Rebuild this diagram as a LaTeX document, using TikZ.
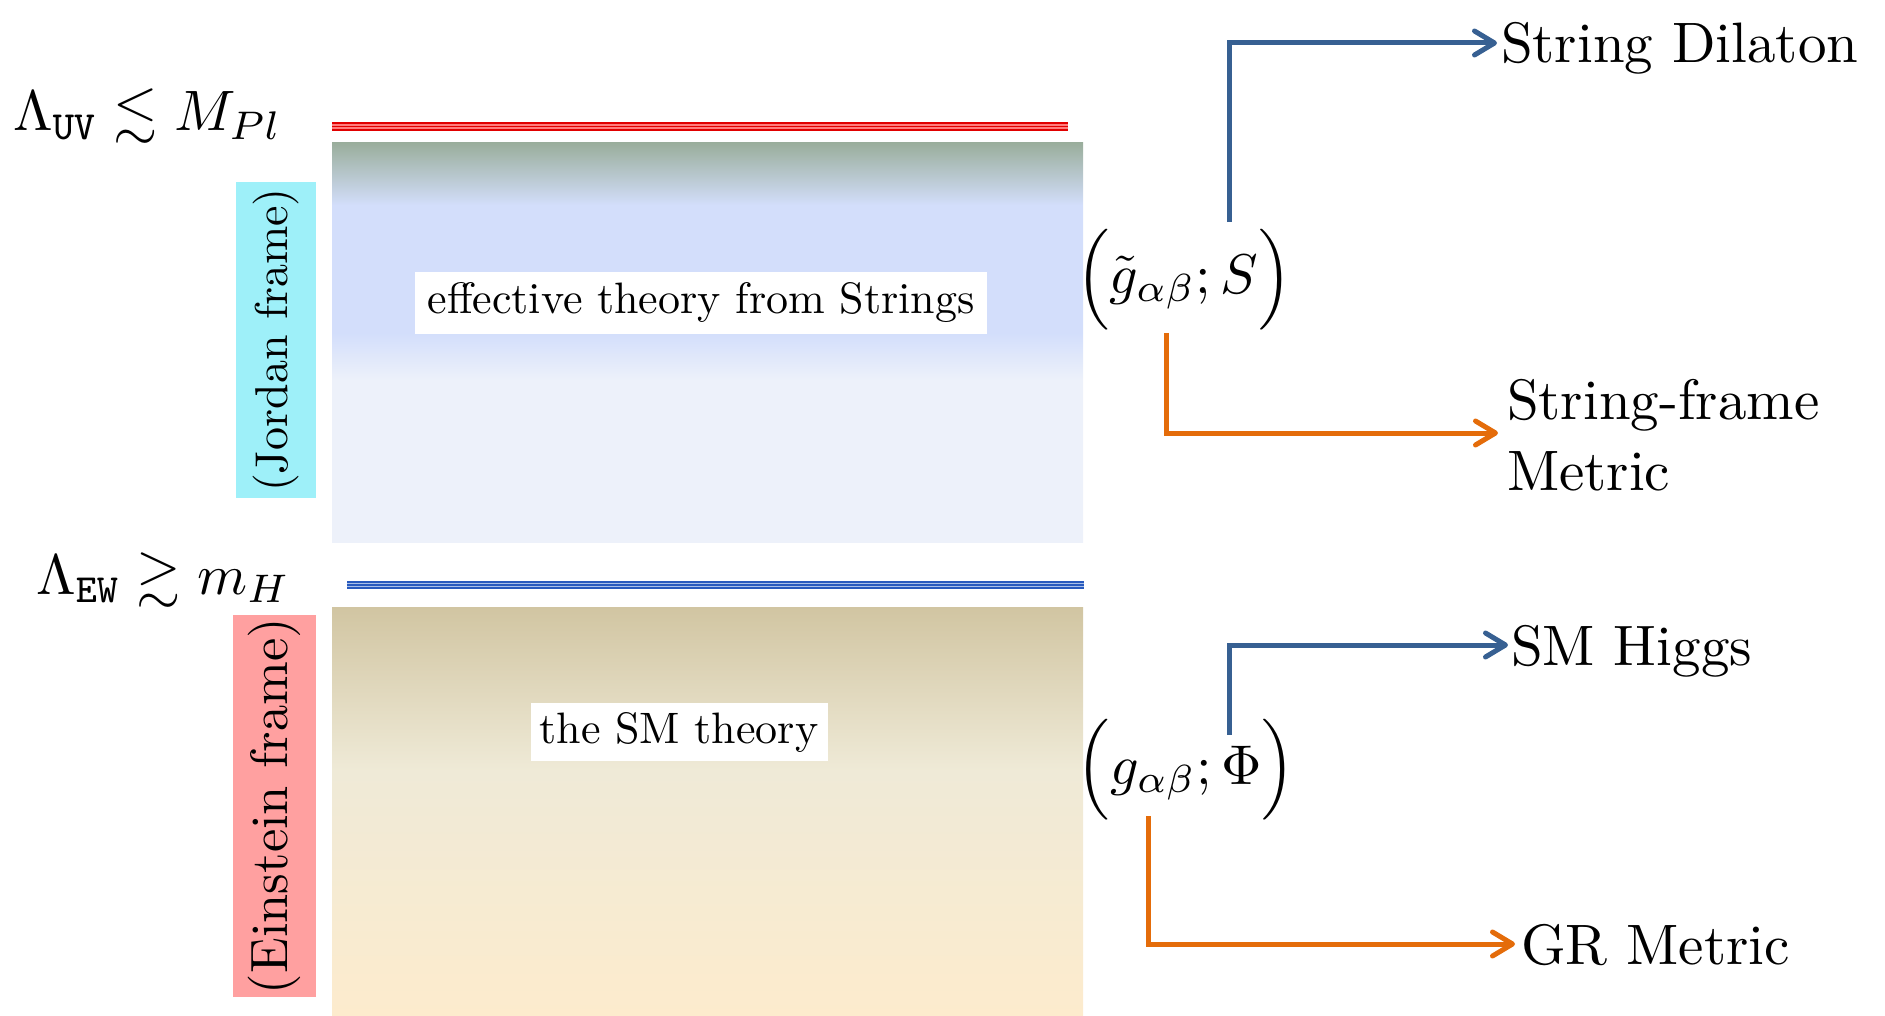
\documentclass[tikz,border=0pt]{standalone}
\usepackage{amssymb}
\usepackage{graphicx}
\usetikzlibrary{arrows.meta}
\definecolor{arrblue}{RGB}{55,96,146}
\definecolor{arrorange}{RGB}{228,108,10}
\definecolor{jcyan}{RGB}{158,240,249}
\definecolor{epink}{RGB}{255,160,160}
\definecolor{redline}{RGB}{225,0,0}
\definecolor{redlight}{RGB}{255,125,125}
\definecolor{blueline}{RGB}{40,90,190}
\definecolor{bluelight}{RGB}{170,192,232}
\pgfdeclareverticalshading{topgrad}{100bp}{%
  rgb(0bp)=(0.929,0.945,0.980);
  rgb(25bp)=(0.929,0.945,0.980);
  rgb(45.3bp)=(0.929,0.945,0.980);
  rgb(51.2bp)=(0.827,0.871,0.984);
  rgb(67.2bp)=(0.827,0.871,0.984);
  rgb(75bp)=(0.604,0.682,0.612);
  rgb(100bp)=(0.604,0.682,0.612)}
\pgfdeclareverticalshading{botgrad}{100bp}{%
  rgb(0bp)=(0.992,0.922,0.804);
  rgb(25bp)=(0.992,0.922,0.804);
  rgb(55bp)=(0.937,0.918,0.843);
  rgb(75bp)=(0.820,0.773,0.635);
  rgb(100bp)=(0.820,0.773,0.635)}
\tikzset{
  arr/.style={line width=5pt,-{Straight Barb[length=20pt,width=24pt,round]}},
  bluearr/.style={arr,draw=arrblue},
  orangearr/.style={arr,draw=arrorange},
  labelbox/.style={fill=white,inner sep=0pt,outer sep=0pt},
  framebox/.style={inner sep=0pt,outer sep=0pt,rotate=90},
  rlabel/.style={anchor=west,inner ysep=0pt,outer sep=0pt,text height=45pt,text depth=5pt},
  mathnode/.style={inner sep=0pt,outer sep=0pt},
}
\begin{document}
\begin{tikzpicture}[x=1pt,y=-1pt]
\useasboundingbox (0,0) rectangle (1885,1016);
% background regions
\shade[shading=topgrad] (332,143) rectangle (1083,542);
\shade[shading=botgrad] (332,607) rectangle (1083,1016);
% scale lines
\draw[redlight,line width=8pt] (332,126.5) -- (1068,126.5);
\foreach \yy in {123.3,126.5,129.7} \draw[redline,line width=1.7pt] (332,\yy) -- (1068,\yy);
\draw[bluelight,line width=8pt] (347,585) -- (1084,585);
\foreach \yy in {581.8,585,588.2} \draw[blueline,line width=1.7pt] (347,\yy) -- (1084,\yy);
% labels inside regions
\node[labelbox,minimum width=572pt,minimum height=62pt] (eff) at (701,303) {\scalebox{4.4}{effective theory from Strings}};
\node[labelbox,minimum width=297pt,minimum height=58pt] (smt) at (679,732) {\scalebox{4.4}{the SM theory}};
% frame labels
\node[framebox,fill=jcyan,minimum width=316pt,minimum height=80pt] (jor) at (276,340) {\scalebox{4.6}{(Jordan frame)}};
\node[framebox,fill=epink,minimum width=382pt,minimum height=83pt] (ein) at (274.5,806) {\scalebox{5.25}{(Einstein frame)}};
% scales
\node[anchor=base west,inner sep=0pt] (luv) at (13,131) {\scalebox{5.7}{$\Lambda_{\mathtt{UV}}\lesssim M_{Pl}$}};
\node[anchor=base west,inner sep=0pt] (lew) at (36,594) {\scalebox{5.7}{$\Lambda_{\mathtt{EW}}\gtrsim m_{H}$}};
% fields
\node[mathnode] (gs) at (1184,279.5) {\scalebox{5.6}{$\Bigl(\tilde g_{\alpha\beta};S\Bigr)$}};
\node[mathnode] (gp) at (1186,770) {\scalebox{5.6}{$\Bigl(g_{\alpha\beta};\Phi\Bigr)$}};
% right labels
\node[rlabel,inner xsep=4pt] (dil) at (1497,43) {\scalebox{5.7}{String Dilaton}};
\node[anchor=west,inner ysep=0pt,inner xsep=9pt,outer sep=0pt,text height=10pt,text depth=38pt] (sfm) at (1498,433)
  {\scalebox{5.7}{\begin{tabular}[t]{@{}l@{}}String-frame\\[0.6pt]Metric\end{tabular}}};
\node[rlabel,inner xsep=3pt] (hig) at (1508,645) {\scalebox{5.7}{SM Higgs}};
\node[rlabel,inner xsep=6pt] (grm) at (1515,944) {\scalebox{5.7}{GR Metric}};
% connectors
\draw[bluearr] ([xshift=45pt,yshift=7pt]gs.north) |- (dil.west);
\draw[orangearr] ([xshift=-18pt,yshift=-3pt]gs.south) |- (sfm.west);
\draw[bluearr] ([xshift=43pt,yshift=-15pt]gp.north) |- (hig.west);
\draw[orangearr] ([xshift=-38pt,yshift=4pt]gp.south) |- (grm.west);
\end{tikzpicture}
\end{document}
